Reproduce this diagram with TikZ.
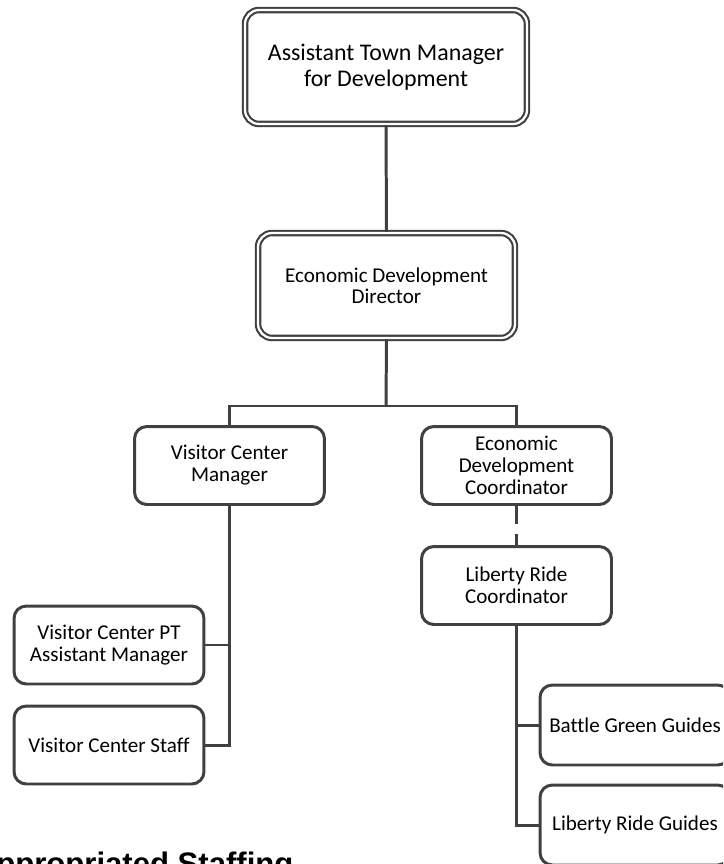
\documentclass[tikz,border=0pt]{standalone}
\usepackage{fontspec}
\setmainfont{Carlito}[Ligatures=NoCommon]
\newfontfamily\headfont{Liberation Sans}
\usepackage{tikz}
\usetikzlibrary{positioning, calc}
\definecolor{linegray}{HTML}{404040}

\begin{document}
\begin{tikzpicture}[
    x=0.02cm, y=-0.02cm,
    leadbox/.style={rectangle, draw=linegray, double, line width=1.2pt, double distance=1.3pt, rounded corners=8pt, align=center, inner sep=0pt},
    staffbox/.style={rectangle, draw=linegray, line width=1.7pt, rounded corners=7pt, minimum width=3.8cm, minimum height=1.56cm, align=center, inner sep=0pt, font=\fontsize{12}{12.5}\selectfont},
    link/.style={draw=linegray, line width=1.7pt}
  ]
    % Canvas
    \useasboundingbox (0,0) rectangle (723,864);
    \clip (0,0) rectangle (723,864);

    % Top level
    \node[leadbox, minimum width=5.64cm, minimum height=2.28cm, font=\fontsize{13.6}{14.5}\selectfont] (atm) at (386,67) {Assistant Town Manager\\for Development};

    % Director
    \node[leadbox, minimum width=5.14cm, minimum height=2.1cm, font=\fontsize{12}{12}\selectfont] (edd) at (386.5,285.5) {Economic Development\\Director};

    % Second level
    \node[staffbox] (vcm) at (229.5,465.5) {Visitor Center\\Manager};
    \node[staffbox] (edc) at (516.5,465.5) {Economic\\Development\\Coordinator};

    % Liberty Ride
    \node[staffbox] (lrc) at (516.5,585.5) {Liberty Ride\\Coordinator};

    % Visitor Center staff
    \node[staffbox] (vpt) at (109,645) {Visitor Center PT\\Assistant Manager};
    \node[staffbox] (vcs) at (109,745) {Visitor Center Staff};

    % Guides - running off the right edge
    \node[staffbox, minimum height=1.6cm] (bgg) at (635,725) {Battle Green Guides};
    \node[staffbox, minimum height=1.6cm] (lrg) at (635,825) {Liberty Ride Guides};

    % Caption cut by the bottom edge
    \node[anchor=base west, inner sep=0pt, font=\headfont\bfseries\fontsize{17.7}{18}\selectfont] (cap) at (-4,874) {ppropriated Staffing};

    % Connectors
    \coordinate (split) at (386,406);
    \draw[link] (atm.south) -- (edd.north);
    \draw[link] (edd.south) -- (split);
    \draw[link] (vcm.north) |- (split) -| (edc.north);
    \draw[link, dash pattern=on 10.2pt off 5.7pt] (edc.south) -- (lrc.north);
    \draw[link] (vcm.south) |- (vpt.east);
    \draw[link] (vcm.south) |- (vcs.east);
    \draw[link] (lrc.south) |- (bgg.west);
    \draw[link] (lrc.south) |- (lrg.west);
  \end{tikzpicture}
\end{document}
